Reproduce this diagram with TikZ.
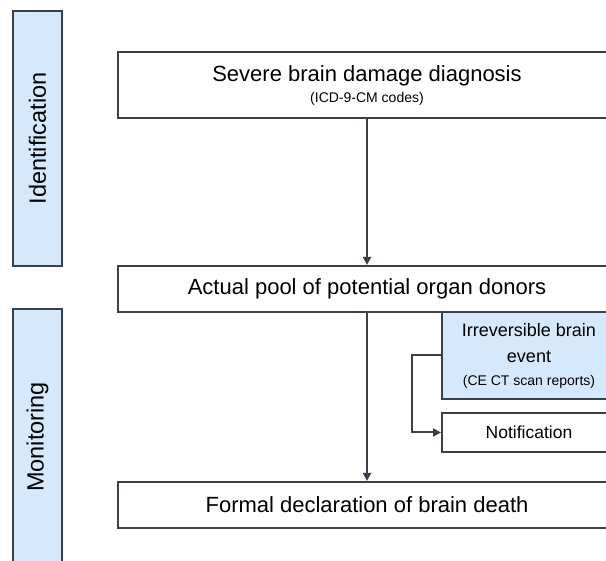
\documentclass[tikz,border=0pt]{standalone}
\usepackage{fontspec}
\setmainfont{Liberation Sans}
\usetikzlibrary{arrows.meta}
\definecolor{linegray}{RGB}{58,64,74}
\definecolor{phaseblue}{RGB}{214,232,252}

\begin{document}
\begin{tikzpicture}[x=1pt, y=-1pt, line width=2pt,
	stage/.style={draw=linegray, fill=white, inner sep=0pt, align=center, font=\fontsize{22}{26}\selectfont},
	sidestage/.style={stage, fill=#1, font=\fontsize{18}{26}\selectfont},
	phase/.style={draw=linegray, fill=phaseblue, inner sep=0pt, rotate=90, minimum height=49pt, font=\fontsize{23.5}{28}\selectfont},
	flow/.style={draw=linegray, -{Triangle[length=8pt, width=8pt]}}]
		\useasboundingbox (0,0) rectangle (606,561);
		\clip (0,0) rectangle (606,561);
		\node[phase, minimum width=255pt] (ident) at (37.5,138.5) {Identification};
		\node[phase, minimum width=256pt] (monit) at (37.5,437) {Monitoring};
		\node[stage, minimum width=498pt, minimum height=66pt] (severe) at (367,85) {Severe brain damage diagnosis\\[-5pt]{\fontsize{14}{16}\selectfont (ICD-9-CM codes)}};
		\node[stage, minimum width=498pt, minimum height=46pt] (pool) at (367,289) {Actual pool of potential organ donors};
		\node[stage, minimum width=498pt, minimum height=46pt] (formal) at (367,505) {Formal declaration of brain death};
		\node[sidestage=phaseblue, minimum width=174pt, minimum height=87pt] (irrev) at (529,355.5) {Irreversible brain\\event\\[-3pt]{\fontsize{14}{16}\selectfont (CE CT scan reports)}};
		\node[sidestage=white, minimum width=174pt, minimum height=39pt, font=\fontsize{17.5}{21}\selectfont] (notif) at (529,432.5) {Notification};
		\draw[flow] (severe) -- (pool);
		\draw[flow] (pool) -- (formal);
		\draw[flow] (irrev.west) -- ++(-29,0) |- (notif.west);
\end{tikzpicture}
\end{document}
